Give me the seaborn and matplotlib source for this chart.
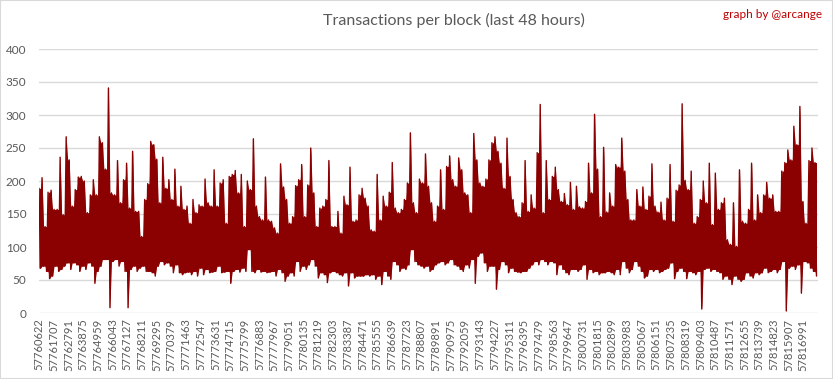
import numpy as np
import pandas as pd
import matplotlib.pyplot as plt
from matplotlib.patches import Rectangle
import seaborn as sns

# block range shown on the chart (48 hours)
first_block = 57760622
last_block = 57818074
first_step_block = 57761707
label_step = 1084

# per-slice highest and lowest transaction counts left to right
tx_high = [
    189, 205, 131, 183, 186, 157, 157, 236, 149, 267, 232, 162, 187, 206, 207, 200, 152, 179, 202, 179, 267, 258,
    218, 341, 182, 179, 231, 167, 202, 227, 159, 245, 154, 154, 116, 172, 196, 260, 255, 233, 167, 236, 189,
    202, 172, 218, 162, 192, 157, 162, 136, 172, 152, 164, 162, 203, 167, 162, 217, 162, 197, 202, 136, 207, 210,
    216, 182, 210, 131, 200, 187, 264, 162, 146, 141, 206, 141, 139, 129, 121, 226, 191, 172, 136, 146, 193,
    202, 225, 146, 194, 250, 182, 131, 159, 162, 172, 231, 131, 131, 154, 121, 177, 164, 221, 139, 141, 179, 189,
    174, 162, 126, 124, 210, 141, 177, 162, 183, 228, 159, 152, 157, 172, 197, 273, 167, 152, 203, 197, 241,
    192, 167, 139, 162, 217, 157, 222, 238, 202, 192, 235, 217, 182, 179, 152, 272, 232, 197, 192, 203, 232, 258,
    267, 245, 227, 189, 265, 207, 172, 152, 146, 167, 231, 154, 179, 159, 243, 316, 152, 231, 172, 207, 221,
    187, 169, 181, 164, 198, 157, 192, 161, 159, 169, 227, 182, 301, 218, 146, 251, 153, 182, 162, 225, 221, 265,
    215, 172, 141, 141, 187, 162, 191, 157, 177, 226, 162, 153, 168, 141, 174, 225, 139, 186, 194, 317, 201,
    187, 215, 136, 146, 172, 200, 167, 227, 134, 212, 157, 167, 174, 111, 104, 167, 101, 217, 139, 136, 157, 227,
    141, 179, 152, 179, 198, 174, 179, 154, 154, 215, 228, 247, 232, 283, 255, 313, 169, 136, 231, 250, 228,
]
tx_low = [
    68, 71, 63, 52, 56, 71, 63, 66, 71, 76, 66, 76, 73, 63, 71, 66, 76, 71, 45, 63, 71, 81,
    81, 8, 78, 81, 71, 78, 63, 8, 66, 71, 63, 68, 71, 63, 63, 61, 56, 71, 78, 73, 76,
    71, 61, 73, 61, 58, 61, 62, 58, 63, 56, 68, 58, 66, 61, 62, 63, 71, 61, 62, 63, 45, 63,
    66, 62, 68, 63, 96, 63, 61, 66, 62, 63, 61, 62, 63, 56, 66, 61, 48, 56, 61, 56, 78,
    63, 71, 66, 73, 81, 71, 53, 61, 58, 46, 61, 63, 61, 58, 56, 61, 41, 61, 53, 56, 56, 56,
    58, 56, 58, 51, 56, 43, 63, 56, 51, 78, 73, 63, 68, 66, 73, 96, 78, 73, 71, 68, 71,
    63, 66, 73, 76, 78, 73, 76, 81, 73, 71, 66, 63, 73, 68, 81, 45, 86, 91, 76, 63, 71, 71,
    36, 66, 78, 73, 61, 68, 63, 62, 61, 63, 63, 68, 73, 78, 73, 81, 78, 73, 78, 76, 58,
    73, 66, 61, 58, 66, 66, 63, 66, 73, 51, 66, 61, 63, 58, 61, 61, 63, 61, 58, 66, 58, 78,
    68, 61, 66, 78, 71, 63, 53, 56, 66, 63, 66, 61, 63, 66, 68, 76, 52, 63, 68, 63, 52,
    63, 61, 58, 63, 6, 66, 68, 63, 66, 63, 61, 51, 56, 51, 43, 56, 51, 48, 51, 61, 56, 53,
    61, 58, 61, 68, 61, 63, 66, 61, 66, 78, 3, 68, 71, 66, 73, 30, 78, 76, 68, 63, 56,
]

# interleave highs and lows so the line swings between them like the raw blocks do
n = len(tx_high)
hi = np.array(tx_high, dtype=float)
lo = np.array(tx_low, dtype=float)
half = (last_block - first_block) / (2 * n)
blocks = first_block + np.arange(2 * n) * half
tx = np.empty(2 * n)
tx[0::2] = hi
tx[1::2] = lo
df = pd.DataFrame({"block": blocks, "tx": tx})

# solid band between neighbouring slices (the raw line is too dense to show gaps)
band_top = np.empty(2 * n)
band_top[0::2] = hi
band_top[1::2] = np.minimum(hi, np.append(hi[1:], hi[-1]))
band_bot = np.empty(2 * n)
band_bot[1::2] = lo
band_bot[0::2] = np.maximum(lo, np.insert(lo[:-1], 0, lo[0]))

sns.set_theme(style="white")
plt.rcParams["font.family"] = ["Lato", "DejaVu Sans"]

grey = "#595959"
red = "#8b0000"
fig = plt.figure(figsize=(8.33, 3.79), dpi=100)
ax = fig.add_axes([39 / 833, 1 - 313 / 379, (818 - 39) / 833, (313 - 49) / 379])

ax.fill_between(blocks, band_bot, band_top, color=red, linewidth=0, zorder=2)
sns.lineplot(data=df, x="block", y="tx", color=red, linewidth=1.0,
             estimator=None, ax=ax, zorder=3)

ax.set_xlim(first_block, last_block)
ax.set_ylim(0, 400)
ax.set_yticks(range(0, 401, 50))
ticks = [first_block] + list(range(first_step_block, last_block, label_step))
ax.set_xticks(ticks)
ax.set_xticklabels([str(t) for t in ticks], rotation=90)
ax.tick_params(axis="x", length=0, pad=4, labelsize=8, labelcolor=grey)
ax.tick_params(axis="y", length=0, pad=9, labelsize=8.5, labelcolor=grey)
ax.grid(axis="y", color="#d9d9d9", linewidth=1)
ax.grid(axis="x", visible=False)
ax.set_axisbelow(True)
for s in ax.spines.values():
    s.set_visible(False)
ax.set_xlabel("")
ax.set_ylabel("")

fig.text(454 / 833, 1 - 20 / 379, "Transactions per block (last 48 hours)",
         ha="center", va="center", fontsize=11.5, color=grey)
fig.text(822 / 833, 1 - 15 / 379, "graph by @arcange",
         ha="right", va="center", fontsize=8.5, color="#c00000")
fig.patches.append(Rectangle((0, 0), 1, 1, transform=fig.transFigure, fill=False,
                             edgecolor="#d9d9d9", linewidth=1.5))

fig.savefig("out.png", dpi=100)
